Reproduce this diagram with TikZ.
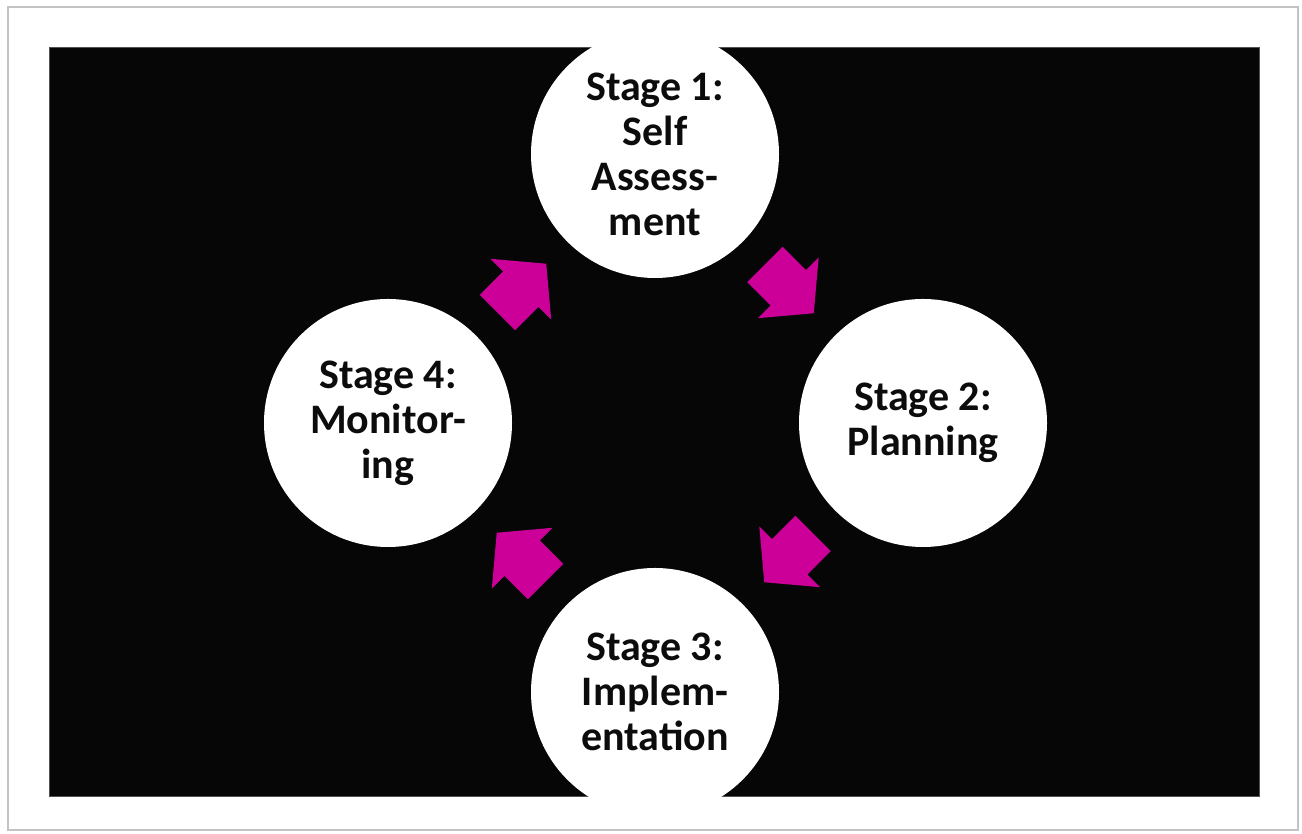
\documentclass[tikz,border=0pt]{standalone}
\usepackage{fontspec}
\setmainfont{Carlito}
\usetikzlibrary{calc}
\definecolor{arrowmag}{RGB}{204,0,153}
\definecolor{panelblack}{RGB}{6,6,6}
\definecolor{framegray}{RGB}{195,195,195}
\definecolor{textblack}{RGB}{12,12,12}
\tikzset{
  stagecircle/.style={circle, fill=white, minimum size=248pt, inner sep=0pt,
    align=center, text=textblack,
    font=\fontsize{42}{45}\selectfont\bfseries},
  arrowfill/.style={fill=arrowmag}
}
\newcommand\blockarrow[3]{%
  \fill[arrowfill, shift={($(#1)!0.5!(#2)$)}, rotate=#3]
    (-34,25) -- (-1,25) -- (-1,43) -- (35,0) -- (-1,-43) -- (-1,-25) -- (-34,-25) -- cycle;}
\begin{document}
\begin{tikzpicture}[x=1pt,y=1pt]
\useasboundingbox (0,0) rectangle (1302,834);
\fill[white] (0,0) rectangle (1302,834);
% outer frame
\draw[framegray, line width=2pt, fill=white] (8,4) rectangle (1298,827);
% black panel
\draw[panelblack!70!white, line width=1pt, fill=panelblack] (49,37) rectangle (1259,786);
% stage circles
\node[stagecircle] (s1) at (655,680) {Stage 1:\\Self\\Assess-\\ment};
\node[stagecircle] (s2) at (923,411) {Stage 2:\\Planning};
\node[stagecircle] (s3) at (655,142) {Stage 3:\\Implem-\\entation};
\node[stagecircle] (s4) at (388,411) {Stage 4:\\Monitor-\\ing};
% block arrows
\blockarrow{s1}{s2}{-45}
\blockarrow{s2}{s3}{-135}
\blockarrow{s3}{s4}{135}
\blockarrow{s4}{s1}{45}
\end{tikzpicture}
\end{document}
